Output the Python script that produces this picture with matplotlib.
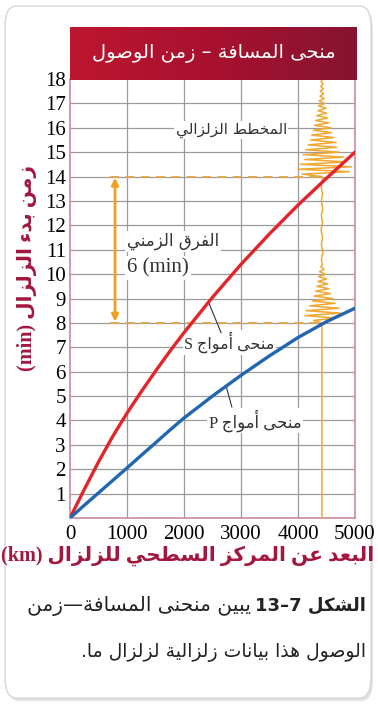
import numpy as np
import matplotlib
matplotlib.use("Agg")
import matplotlib.pyplot as plt
from matplotlib.patches import FancyBboxPatch
from matplotlib.colors import LinearSegmentedColormap

# ---------------- data ----------------
dist_km = [0, 250, 500, 750, 1000, 1250, 1500, 1750, 2000, 2500, 3000, 3500, 4000, 4500, 5000]
s_wave_min = [0, 1.17, 2.3, 3.35, 4.3, 5.18, 6.02, 6.83, 7.6, 9.05, 10.4, 11.65, 12.83, 13.93, 15.0]
p_wave_min = [0, 0.52, 1.03, 1.54, 2.05, 2.57, 3.08, 3.6, 4.1, 5.0, 5.85, 6.65, 7.4, 8.05, 8.6]

x_ticks = [0, 1000, 2000, 3000, 4000, 5000]
y_ticks = list(range(1, 19))

station_km = 4420          # seismograph position on the distance axis
p_arrival = 8.0
s_arrival = 14.0
arrow_km = 790

# seismogram trace: time (min) and horizontal swing (km) around station
seis_y = [0.0, 8.0, 8.1, 8.2, 8.3, 8.4, 8.5, 8.6, 8.7, 8.8, 8.9, 9.0, 9.1, 9.2, 9.3,
          9.4, 9.5, 9.6, 9.7, 9.8, 9.9, 10.0, 10.1, 10.2, 10.3, 10.4,
          10.6, 10.9, 11.2, 11.5, 11.8, 12.1, 12.4, 12.7, 13.0, 13.3, 13.6, 13.9,
          14.0, 14.1, 14.2, 14.3, 14.4, 14.5, 14.6, 14.7, 14.8, 14.9, 15.0,
          15.1, 15.2, 15.3, 15.4, 15.5, 15.6, 15.7, 15.8, 15.9, 16.0,
          16.1, 16.2, 16.3, 16.4, 16.5, 16.6, 16.7, 16.8, 16.9, 17.0,
          17.1, 17.2, 17.3, 17.4, 17.5, 17.6, 17.7, 17.8, 17.9, 18.0]
seis_dx = [0, 0, -150, 250, -300, 330, -280, 300, -220, 230, -170, 190, -140, 150, -110,
           120, -90, 100, -70, 80, -60, 60, -40, 40, -20, 10,
           -10, 15, -10, 10, -15, 10, -10, 15, -10, 10, -15, 10,
           0, -350, 480, -420, 520, -380, 430, -300, 380, -330, 300,
           -280, 260, -240, 250, -200, 210, -180, 170, -150, 160,
           -130, 120, -110, 100, -90, 80, -70, 70, -60, 50,
           -50, 40, -35, 30, -30, 25, -20, 20, -15, 10]

title_txt = "منحى المسافة – زمن الوصول"
ylabel_ar = "زمن بدء الزلزال"
xlabel_ar = "البعد عن المركز السطحي للزلزال"
seismo_lbl = "المخطط الزلزالي"
diff_lbl = "الفرق الزمني"
wave_lbl = "منحى أمواج"
cap_bold = "الشكل"
cap_line1 = "يبين منحنى المسافة—زمن"
cap_line2 = "الوصول هذا بيانات زلزالية لزلزال ما."

# ---------------- minimal Arabic shaping ----------------
F = {
    'ء': (0xFE80, None, None, None),
    'أ': (0xFE83, 0xFE84, None, None),
    'ا': (0xFE8D, 0xFE8E, None, None),
    'ب': (0xFE8F, 0xFE90, 0xFE91, 0xFE92),
    'ة': (0xFE93, 0xFE94, None, None),
    'ت': (0xFE95, 0xFE96, 0xFE97, 0xFE98),
    'ج': (0xFE9D, 0xFE9E, 0xFE9F, 0xFEA0),
    'ح': (0xFEA1, 0xFEA2, 0xFEA3, 0xFEA4),
    'خ': (0xFEA5, 0xFEA6, 0xFEA7, 0xFEA8),
    'د': (0xFEA9, 0xFEAA, None, None),
    'ذ': (0xFEAB, 0xFEAC, None, None),
    'ر': (0xFEAD, 0xFEAE, None, None),
    'ز': (0xFEAF, 0xFEB0, None, None),
    'س': (0xFEB1, 0xFEB2, 0xFEB3, 0xFEB4),
    'ش': (0xFEB5, 0xFEB6, 0xFEB7, 0xFEB8),
    'ص': (0xFEB9, 0xFEBA, 0xFEBB, 0xFEBC),
    'ط': (0xFEC1, 0xFEC2, 0xFEC3, 0xFEC4),
    'ع': (0xFEC9, 0xFECA, 0xFECB, 0xFECC),
    'ف': (0xFED1, 0xFED2, 0xFED3, 0xFED4),
    'ق': (0xFED5, 0xFED6, 0xFED7, 0xFED8),
    'ك': (0xFED9, 0xFEDA, 0xFEDB, 0xFEDC),
    'ل': (0xFEDD, 0xFEDE, 0xFEDF, 0xFEE0),
    'م': (0xFEE1, 0xFEE2, 0xFEE3, 0xFEE4),
    'ن': (0xFEE5, 0xFEE6, 0xFEE7, 0xFEE8),
    'ه': (0xFEE9, 0xFEEA, 0xFEEB, 0xFEEC),
    'و': (0xFEED, 0xFEEE, None, None),
    'ى': (0xFEEF, 0xFEF0, None, None),
    'ي': (0xFEF1, 0xFEF2, 0xFEF3, 0xFEF4),
}
LAMALEF = {'ا': (0xFEFB, 0xFEFC), 'أ': (0xFEF7, 0xFEF8)}


def shape(text):
    out = []
    i, n = 0, len(text)
    while i < n:
        c = text[i]
        if c not in F:
            out.append(c)
            i += 1
            continue
        prev = text[i - 1] if i > 0 else None
        jp = prev in F and F[prev][2] is not None
        if c == 'ل' and i + 1 < n and text[i + 1] in LAMALEF:
            lig = LAMALEF[text[i + 1]]
            out.append(chr(lig[1] if jp else lig[0]))
            i += 2
            continue
        nxt = text[i + 1] if i + 1 < n else None
        jn = F[c][2] is not None and nxt in F
        f = F[c]
        if jp and jn:
            code = f[3]
        elif jp:
            code = f[1]
        elif jn:
            code = f[2]
        else:
            code = f[0]
        out.append(chr(code))
        i += 1
    return ''.join(out)


def vis(text):
    return shape(text)[::-1]


# ---------------- styling ----------------
RED = '#e3242b'
BLUE = '#2266b0'
ORANGE = '#f0a832'
CRIMSON = '#a3173f'
GRID = '#9a9a9a'
SPINE = '#c98aa0'
SERIF = ['Liberation Serif', 'DejaVu Sans']
ARAB = ['DejaVu Sans']

W, H = 378, 704
fig = plt.figure(figsize=(W / 100, H / 100), dpi=100)
fig.patch.set_facecolor('white')

# card background with soft shadow
shadow = FancyBboxPatch((7 / W, 3 / H), 366 / W, 692 / H,
                        boxstyle="round,pad=0,rounding_size=0.03",
                        transform=fig.transFigure, facecolor='#cfcfcf',
                        edgecolor='none', alpha=0.6, zorder=-3)
card = FancyBboxPatch((5 / W, 6 / H), 366 / W, 692 / H,
                      boxstyle="round,pad=0,rounding_size=0.03",
                      transform=fig.transFigure, facecolor='white',
                      edgecolor='#d6d6d6', linewidth=1.0, zorder=-2)
fig.patches.extend([shadow, card])

x0, x1, ybot, ytop = 70, 355, 518, 79
ax = fig.add_axes([x0 / W, 1 - ybot / H, (x1 - x0) / W, (ybot - ytop) / H])
ax.set_xlim(0, 5000)
ax.set_ylim(0, 18)
ax.set_facecolor('white')

# grid
for xv in x_ticks[1:-1]:
    ax.axvline(xv, color=GRID, lw=0.9, zorder=1)
for yv in y_ticks[:-1]:
    ax.axhline(yv, color=GRID, lw=0.9, zorder=1)

for side in ['left', 'right', 'bottom']:
    ax.spines[side].set_color(SPINE)
    ax.spines[side].set_linewidth(1.2)
ax.spines['top'].set_visible(False)

ax.set_xticks(x_ticks)
ax.set_xticklabels([str(v) for v in x_ticks], family=SERIF, fontsize=15)
ax.set_yticks(y_ticks)
ax.set_yticklabels([str(v) for v in y_ticks], family=SERIF, fontsize=15)
ax.tick_params(length=0, pad=3)
ax.tick_params(axis='x', pad=5)

# curves
ax.plot(dist_km, s_wave_min, color=RED, lw=2.4, zorder=4, solid_capstyle='round',
        solid_joinstyle='round')
ax.plot(dist_km, p_wave_min, color=BLUE, lw=2.4, zorder=4, solid_capstyle='round',
        solid_joinstyle='round')

# seismogram
ax.plot([station_km + d for d in seis_dx], seis_y, color=ORANGE, lw=1.1, zorder=3)

# dashed arrival lines
for yv in (p_arrival, s_arrival):
    ax.plot([arrow_km - 90, station_km], [yv, yv], color='#e2a445', lw=1.3,
            dashes=(5, 3.5), zorder=2)

# double arrow
ax.annotate('', xy=(arrow_km, s_arrival - 0.05), xytext=(arrow_km, p_arrival + 0.05),
            arrowprops=dict(arrowstyle='<|-|>', color='#f0a020', lw=2,
                            mutation_scale=10, shrinkA=0, shrinkB=0), zorder=5)

box = dict(boxstyle='square,pad=0.1', fc='white', ec='none')

# labels inside plot
ax.text(2830, 15.9, vis(seismo_lbl), family=ARAB, fontsize=11, color='#333333',
        ha='center', va='center', bbox=box, zorder=3)
ax.text(1000, 11.35, vis(diff_lbl), family=ARAB, fontsize=12,
        color='#333333', ha='left', va='center', bbox=box, zorder=3)
ax.text(1000, 10.25, '6 (min)', family=SERIF, fontsize=15,
        color='#333333', ha='left', va='center', bbox=box, zorder=3)
ax.text(2800, 7.2, 'S ' + vis(wave_lbl), family=SERIF, fontsize=11.5, color='#333333',
        ha='center', va='center', bbox=box, zorder=3)
ax.text(3250, 4.0, 'P ' + vis(wave_lbl), family=SERIF, fontsize=12, color='#333333',
        ha='center', va='center', bbox=box, zorder=3)
# leader lines
ax.plot([2430, 2650], [8.85, 7.6], color='#333333', lw=0.8, zorder=3)
ax.plot([2740, 2840], [5.4, 4.55], color='#333333', lw=0.8, zorder=3)

# title band with gradient
tax = fig.add_axes([70 / W, 1 - 80 / H, 287 / W, 53 / H])
grad = np.linspace(0, 1, 256).reshape(1, -1)
cmap = LinearSegmentedColormap.from_list('t', ['#bd1630', '#a8112e', '#861431'])
tax.imshow(grad, aspect='auto', cmap=cmap, extent=(0, 1, 0, 1))
tax.set_axis_off()
tax.text(0.5, 0.5, vis(title_txt), family=ARAB, fontsize=14, color='white',
         ha='center', va='center', transform=tax.transAxes)

# axis labels
fig.text(27 / W, 1 - 268 / H, '(min) ' + vis(ylabel_ar), family=SERIF, fontsize=14.5,
         color=CRIMSON, rotation=90, ha='center', va='center', fontweight='bold')
fig.text(188 / W, 1 - 556 / H, '(km) ' + vis(xlabel_ar), family=SERIF, fontsize=14.5,
         color=CRIMSON, ha='center', va='center', fontweight='bold')

# caption
tb = fig.text(366 / W, 1 - 611 / H, '13–7 ' + vis(cap_bold), family=ARAB, fontsize=13,
              color='#222222', ha='right', va='baseline', fontweight='bold')
fig.canvas.draw()
bb = tb.get_window_extent()
fig.text(bb.x0 / W - 4 / W, 1 - 611 / H, vis(cap_line1), family=ARAB, fontsize=14.5,
         color='#222222', ha='right', va='baseline')
fig.text(366 / W, 1 - 657 / H, vis(cap_line2), family=ARAB, fontsize=13.5,
         color='#222222', ha='right', va='baseline')

fig.savefig('out.png', dpi=100, facecolor='white')
plt.close('all')
